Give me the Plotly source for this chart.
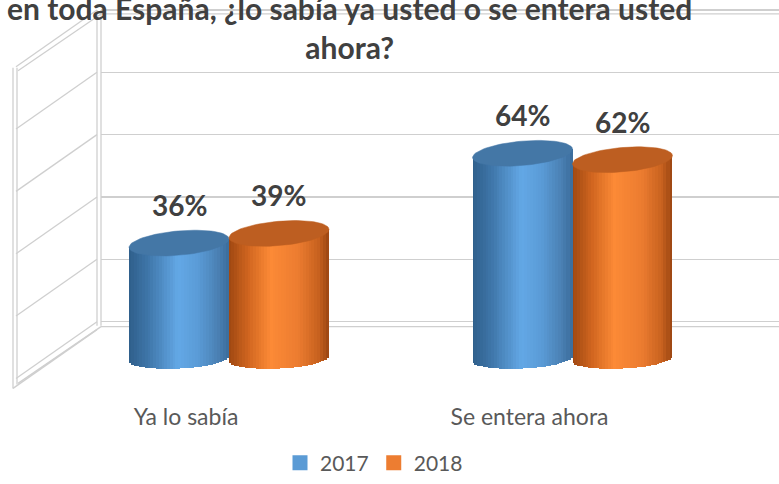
import numpy as np
import plotly.graph_objects as go

# ---------------- data ----------------
categories = ["Ya lo sabía", "Se entera ahora"]
series_names = ["2017", "2018"]
values_2017 = [36, 64]
values_2018 = [39, 62]
wall_ticks = [0, 20, 40, 60, 80, 100]
title_text = "en toda España, ¿lo sabía ya usted o se entera usted<br>ahora?"

# ---------------- style ----------------
W, H = 779, 484
FONT = "Lato"
legend_colors = {"2017": "#5B9BD5", "2018": "#ED7D31"}
cap_colors = {"2017": "#4477A6", "2018": "#BD5E21"}
# gradient anchors across the cylinder face (u from -1 left to 1 right)
grad = {
    "2017": ([-1, -0.6, 0.0, 0.4, 0.8, 1.0],
             ["#2e5e8a", "#3f76a9", "#63a8e6", "#5a9bd6", "#4a80b3", "#3b6c9b"]),
    "2018": ([-1, -0.6, -0.15, 0.4, 0.8, 1.0],
             ["#9e4711", "#d0651f", "#fc8a36", "#ec7c30", "#c8621f", "#994512"]),
}
grid_color = "#cfcfcf"


def hex2rgb(h):
    h = h.lstrip("#")
    return np.array([int(h[i:i + 2], 16) for i in (0, 2, 4)], dtype=float)


def shade(series, u):
    us, cs = grad[series]
    rgb = np.array([hex2rgb(c) for c in cs])
    out = [np.interp(u, us, rgb[:, k]) for k in range(3)]
    return "rgb(%d,%d,%d)" % tuple(int(round(v)) for v in out)


def pxx(x):
    return x / W


def pxy(y):
    return 1 - y / H


fig = go.Figure()

# invisible trace to hold the back-wall (grid) subplot
fig.add_trace(go.Scatter(x=[None], y=[None], xaxis="x", yaxis="y",
                         showlegend=False, hoverinfo="skip"))

# ---------------- cylinders ----------------
series_values = {"2017": values_2017, "2018": values_2018}
bw = 0.291          # bar width in category units
N = 36              # gradient strips per cylinder
e_top = 3.8         # cap vertical half-axis (value units)
e_bot = 3.1
tilt = 1.3

cap_traces = []
for s_idx, s in enumerate(series_names):
    xs, ys, bases, widths, cols = [], [], [], [], []
    for i, v in enumerate(series_values[s]):
        xc = i + (s_idx - 0.5) * bw
        sw = bw / N
        for k in range(N):
            u = -1 + (k + 0.5) * 2 / N
            b = -e_bot * np.sqrt(max(0.0, 1 - u * u)) + tilt * 0.6 * u
            top = v + tilt * u
            xs.append(xc - bw / 2 + (k + 0.5) * sw)
            ys.append(top - b)
            bases.append(b)
            widths.append(sw * (1.6 if 0 < k < N - 1 else 1.0))
            cols.append(shade(s, u))
        t = np.linspace(0, 2 * np.pi, 80)
        cap_traces.append(go.Scatter(
            x=xc + (bw / 2) * np.cos(t),
            y=v + tilt * np.cos(t) + e_top * np.sin(t),
            mode="lines", fill="toself", fillcolor=cap_colors[s],
            line=dict(color=cap_colors[s], width=0.5),
            xaxis="x2", yaxis="y2", showlegend=False, hoverinfo="skip"))
    fig.add_trace(go.Bar(x=xs, y=ys, base=bases, width=widths,
                         marker=dict(color=cols, line=dict(width=0)),
                         xaxis="x2", yaxis="y2", showlegend=False,
                         hoverinfo="skip"))
for tr in cap_traces:
    fig.add_trace(tr)

# legend entries
for s in series_names:
    fig.add_trace(go.Scatter(x=[None], y=[None], mode="markers", name=s,
                             marker=dict(symbol="square", size=15,
                                         color=legend_colors[s]),
                             xaxis="x2", yaxis="y2"))

# data labels
for s_idx, s in enumerate(series_names):
    for i, v in enumerate(series_values[s]):
        fig.add_annotation(x=i + (s_idx - 0.5) * bw, y=v, xref="x2", yref="y2",
                           text="<b>%d%%</b>" % v, showarrow=False, yshift=38,
                           font=dict(family=FONT, size=28, color="#404040"))

# ---------------- walls (decoration) ----------------
wall_px_per_unit = (323 - 10) / 100.0


def wall_y(t):
    return 323 - t * wall_px_per_unit


shapes = []
line_style = dict(color=grid_color, width=1.3)
# left wall slanted lines
for t in wall_ticks:
    gy = wall_y(t)
    shapes.append(dict(type="line", xref="paper", yref="paper",
                       x0=pxx(97), y0=pxy(gy), x1=pxx(16), y1=pxy(gy + 57),
                       line=line_style, layer="below"))
# double lines for top and floor
for t, off in ((0, 5), (100, 4)):
    gy = wall_y(t) + off
    shapes.append(dict(type="line", xref="paper", yref="paper",
                       x0=pxx(101), y0=pxy(gy), x1=1, y1=pxy(gy),
                       line=line_style, layer="below"))
    shapes.append(dict(type="line", xref="paper", yref="paper",
                       x0=pxx(101), y0=pxy(gy), x1=pxx(18), y1=pxy(gy + 57),
                       line=line_style, layer="below"))
# back wall vertical edge (double)
for xv in (97, 101):
    shapes.append(dict(type="line", xref="paper", yref="paper",
                       x0=pxx(xv), y0=pxy(wall_y(100)), x1=pxx(xv), y1=pxy(wall_y(0) + 4),
                       line=line_style, layer="below"))
# left wall front edge (double)
for xv, yb in ((13, 390), (17, 386)):
    shapes.append(dict(type="line", xref="paper", yref="paper",
                       x0=pxx(xv), y0=pxy(wall_y(100) + 58), x1=pxx(xv), y1=pxy(yb),
                       line=line_style, layer="below"))
shapes.append(dict(type="line", xref="paper", yref="paper",
                   x0=pxx(13), y0=pxy(390), x1=pxx(97), y1=pxy(wall_y(0) + 8),
                   line=line_style, layer="below"))

# title
fig.add_annotation(x=pxx(349), y=pxy(28), xref="paper", yref="paper",
                   text="<b>" + title_text + "</b>", showarrow=False,
                   xanchor="center", yanchor="middle",
                   font=dict(family=FONT, size=30, color="#404040"))

# ---------------- layout ----------------
pad = 1.0
fig.update_layout(
    template="none",
    width=W, height=H, autosize=False,
    margin=dict(l=0, r=0, t=0, b=0),
    paper_bgcolor="white", plot_bgcolor="rgba(0,0,0,0)",
    font=dict(family=FONT, color="#595959"),
    barmode="overlay", bargap=0,
    shapes=shapes,
    showlegend=True,
    legend=dict(orientation="h", x=pxx(374), xanchor="center", y=pxy(465),
                yanchor="middle", font=dict(family=FONT, size=21, color="#595959"),
                bgcolor="rgba(0,0,0,0)", itemclick=False),
    xaxis=dict(domain=[pxx(101), 1], range=[0, 1], visible=False,
               showgrid=False, zeroline=False),
    yaxis=dict(domain=[pxy(wall_y(0) + pad * wall_px_per_unit),
                       pxy(wall_y(100) - pad * wall_px_per_unit)],
               range=[-pad, 100 + pad], tickvals=wall_ticks,
               showgrid=True, gridcolor=grid_color, gridwidth=1.6,
               showticklabels=False, zeroline=False, showline=False,
               ticks="", anchor="x"),
    xaxis2=dict(domain=[0, 1], range=[-229 / 343.5, (W - 229) / 343.5],
                anchor="free", position=pxy(403),
                tickvals=list(range(len(categories))), ticktext=categories,
                ticklabelshift=-43, ticks="", showline=False, showgrid=False,
                zeroline=False,
                tickfont=dict(family=FONT, size=23, color="#595959")),
    yaxis2=dict(domain=[0, 1], range=[-38.5, 111.8], visible=False,
                anchor="x2", showgrid=False, zeroline=False),
)

fig.write_html("out.html",
               config={"displayModeBar": False, "staticPlot": True},
               post_script="document.body.style.margin='0';"
                           "document.body.style.overflow='hidden';")
